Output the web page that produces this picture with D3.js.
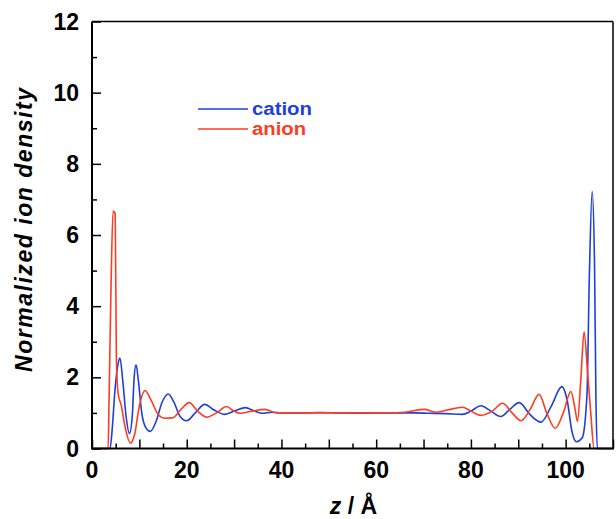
<!DOCTYPE html>
<html>
<head>
<meta charset="utf-8">
<script src="https://cdn.jsdelivr.net/npm/d3@7"></script>
<style>
  body { margin: 0; background: #fff; }
  text { font-family: "Liberation Sans", Arial, sans-serif; font-weight: bold; }
</style>
</head>
<body>
<svg id="chart" width="616" height="519"></svg>
<script>
// z positions (Å) and normalized densities
var cationZ = [0, 3.8, 4.3, 4.8, 5.4, 5.9, 6.5, 7.2, 7.9, 8.5, 8.9, 9.3, 9.8, 10.5, 11.3, 12.3, 13.5, 14.8, 16.1, 17.3, 18.6, 20.0, 21.8, 23.8, 25.8, 28.0, 30.2, 32.4, 34.2, 36.0, 38, 40, 44, 48, 52, 56, 60, 64, 68, 71, 74.7, 78.2, 80, 82.1, 84.2, 86.3, 88.2, 90.2, 92.5, 94.8, 97.0, 99.2, 100.4, 101.3, 102.3, 103.5, 104.5, 105.0, 105.6, 106.1, 106.4, 106.7, 110];
var cationVal = [0, 0, 0.6, 1.56, 2.3, 2.54, 1.9, 0.9, 0.42, 0.9, 2.0, 2.35, 1.9, 1.0, 0.6, 0.48, 0.75, 1.3, 1.53, 1.3, 0.9, 0.78, 1.0, 1.24, 1.08, 0.96, 1.06, 1.15, 1.06, 0.99, 1.02, 1.0, 1.0, 1.01, 1.0, 0.99, 1.0, 1.0, 1.0, 0.99, 0.98, 0.96, 1.05, 1.2, 1.05, 0.9, 1.1, 1.29, 0.95, 0.74, 1.2, 1.74, 1.3, 0.5, 0.19, 0.3, 1.5, 4.8, 7.22, 5.2, 1.36, 0, 0];

var anionZ = [0, 3.4, 3.6, 4.05, 4.45, 4.9, 5.15, 5.5, 6.2, 7.0, 8.1, 9.0, 10.0, 11.2, 12.5, 14.0, 15.4, 17.0, 18.8, 20.5, 22.3, 24.2, 26.3, 28.4, 30.0, 31.2, 33.8, 36.5, 39, 42, 46, 50, 54, 58, 62, 66, 70.2, 72.5, 75, 78.2, 80, 82.1, 84.5, 86.7, 88.7, 90.6, 92.5, 94.4, 96.0, 97.8, 99.5, 101.1, 102.0, 102.5, 103.2, 103.9, 104.6, 105.3, 106.0, 110];
var anionVal = [0, 0, 1.37, 4.79, 6.67, 6.6, 2.5, 1.56, 1.2, 0.6, 0.15, 0.4, 1.2, 1.63, 1.35, 0.95, 0.85, 0.86, 1.1, 1.29, 1.05, 0.88, 1.0, 1.18, 1.05, 0.99, 1.05, 1.1, 1.0, 1.0, 1.0, 1.0, 1.0, 1.0, 1.0, 1.02, 1.1, 1.02, 1.08, 1.16, 1.05, 0.93, 1.05, 1.27, 1.0, 0.78, 1.1, 1.52, 1.0, 0.57, 1.0, 1.6, 1.1, 0.76, 1.93, 3.28, 2.2, 1.0, 0, 0];

var xTickLabels = [0, 20, 40, 60, 80, 100];
var yTickLabels = [0, 2, 4, 6, 8, 10, 12];

var svg = d3.select("#chart"),
  LEFT = 92, RIGHT = 613, TOP = 21.5, BOTTOM = 448.5,
  BLUE = "#1f3fdc", RED = "#ff3b22";

var x = d3.scaleLinear().domain([0, 110]).range([LEFT, RIGHT]);
var y = d3.scaleLinear().domain([0, 12]).range([BOTTOM, TOP]);

// frame
svg.append("line").attr("x1", LEFT).attr("x2", RIGHT).attr("y1", TOP).attr("y2", TOP)
  .attr("stroke", "#000").attr("stroke-width", 1.5);
svg.append("line").attr("x1", RIGHT).attr("x2", RIGHT).attr("y1", TOP).attr("y2", BOTTOM)
  .attr("stroke", "#000").attr("stroke-width", 1.5);

function toPoints(zs, vs) {
  return zs.map(function (z, i) { return [z, vs[i]]; });
}

var lineFunc = d3.line()
  .x(function (d) { return x(d[0]); })
  .y(function (d) { return y(d[1]); })
  .curve(d3.curveMonotoneX);

svg.append("path")
  .attr("d", lineFunc(toPoints(cationZ, cationVal)))
  .attr("stroke", BLUE).attr("stroke-width", 1.6).attr("fill", "none");

svg.append("path")
  .attr("d", lineFunc(toPoints(anionZ, anionVal)))
  .attr("stroke", RED).attr("stroke-width", 1.6).attr("fill", "none");

// x axis, ticks inward
var xAxis = svg.append("g").attr("transform", "translate(0," + BOTTOM + ")");
xAxis.call(d3.axisTop(x).tickValues(d3.range(0, 111, 5)).tickSize(0).tickFormat(""));
xAxis.select(".domain").remove();
xAxis.selectAll(".tick line")
  .attr("y2", function (d) { return d % 10 === 0 ? -9 : -5; })
  .attr("stroke-width", 1.5);
svg.append("line").attr("x1", LEFT).attr("x2", RIGHT + 1).attr("y1", BOTTOM).attr("y2", BOTTOM)
  .attr("stroke", "#000").attr("stroke-width", 2);

svg.append("g").selectAll("text").data(xTickLabels).enter().append("text")
  .attr("x", function (d) { return x(d); })
  .attr("y", BOTTOM + 29)
  .attr("text-anchor", "middle")
  .attr("font-size", 23)
  .text(function (d) { return d; });

// y axis, ticks inward
var yAxis = svg.append("g").attr("transform", "translate(" + LEFT + ",0)");
yAxis.call(d3.axisRight(y).tickValues(d3.range(0, 13, 1)).tickSize(0).tickFormat(""));
yAxis.select(".domain").remove();
yAxis.selectAll(".tick line")
  .attr("x2", function (d) { return d % 2 === 0 ? 9 : 5; })
  .attr("stroke-width", 1.5);
svg.append("line").attr("x1", LEFT).attr("x2", LEFT).attr("y1", TOP).attr("y2", BOTTOM + 1)
  .attr("stroke", "#000").attr("stroke-width", 2);

svg.append("g").selectAll("text").data(yTickLabels).enter().append("text")
  .attr("x", LEFT - 13)
  .attr("y", function (d) { return y(d) + 8; })
  .attr("text-anchor", "end")
  .attr("font-size", 23)
  .text(function (d) { return d; });

// axis titles
svg.append("text")
  .attr("transform", "translate(32,230) rotate(-90)")
  .attr("text-anchor", "middle")
  .attr("font-size", 23)
  .attr("font-style", "italic")
  .attr("textLength", 284)
  .attr("lengthAdjust", "spacing")
  .text("Normalized ion density");

var xt = svg.append("text")
  .attr("x", (LEFT + RIGHT) / 2 + 1)
  .attr("y", 514)
  .attr("text-anchor", "middle")
  .attr("font-size", 23);
xt.append("tspan").attr("font-style", "italic").text("z");
xt.append("tspan").text(" / Å");

// legend
var legend = [["cation", BLUE, 60], ["anion", RED, 54]];
legend.forEach(function (l, i) {
  var ly = 109 + i * 20;
  svg.append("line").attr("x1", 198).attr("x2", 248).attr("y1", ly).attr("y2", ly)
    .attr("stroke", l[1]).attr("stroke-width", 1.6);
  svg.append("text").attr("x", 252).attr("y", ly + 6)
    .attr("font-size", 18).attr("fill", l[1])
    .attr("textLength", l[2]).attr("lengthAdjust", "spacingAndGlyphs")
    .text(l[0]);
});
</script>
</body>
</html>
